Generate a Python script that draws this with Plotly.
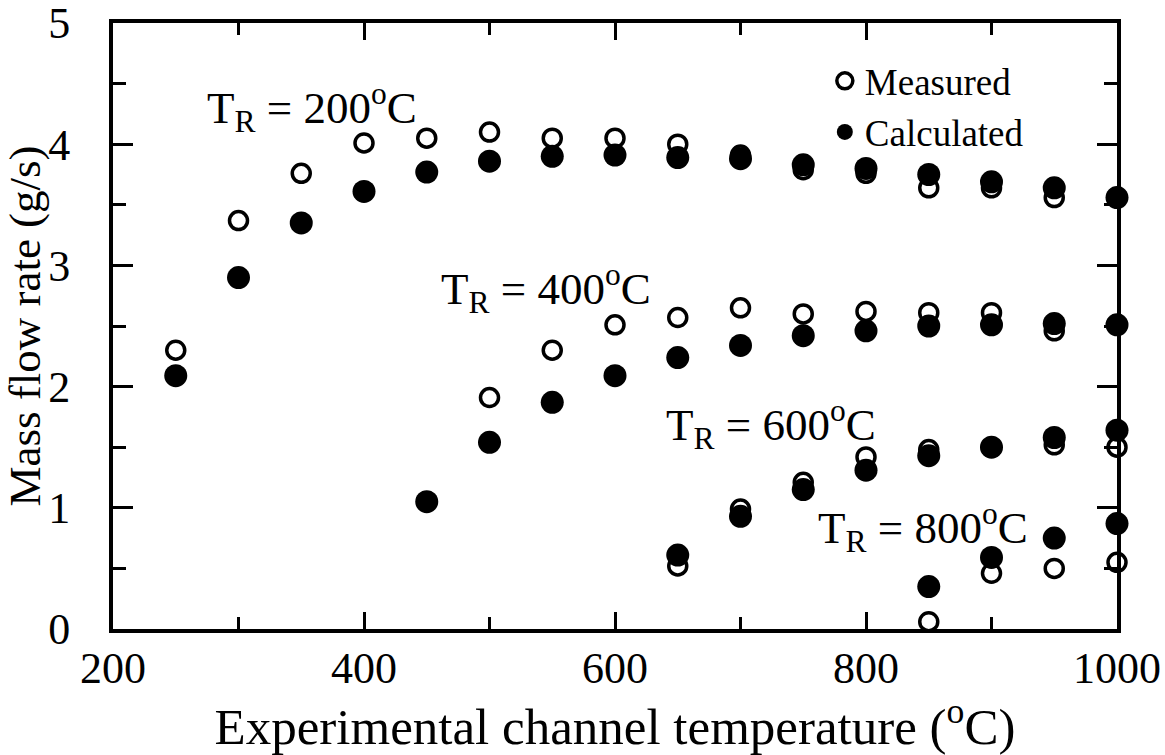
import plotly.graph_objects as go

# ---- data ----
temps_200 = [250, 300, 350, 400, 450, 500, 550, 600, 650, 700, 750, 800, 850, 900, 950, 1000]
meas_200 = [2.30, 3.37, 3.76, 4.01, 4.05, 4.10, 4.05, 4.05, 4.00, 3.91, 3.79, 3.76, 3.64, 3.64, 3.56, 3.56]
calc_200 = [2.09, 2.90, 3.35, 3.61, 3.77, 3.86, 3.90, 3.91, 3.89, 3.88, 3.83, 3.80, 3.75, 3.69, 3.64, 3.56]

temps_400 = [450, 500, 550, 600, 650, 700, 750, 800, 850, 900, 950, 1000]
meas_400 = [1.05, 1.91, 2.30, 2.51, 2.57, 2.65, 2.60, 2.62, 2.61, 2.61, 2.46, 2.51]
calc_400 = [1.05, 1.54, 1.87, 2.09, 2.24, 2.34, 2.42, 2.46, 2.50, 2.51, 2.52, 2.51]

temps_600 = [650, 700, 750, 800, 850, 900, 950, 1000]
meas_600 = [0.52, 0.99, 1.21, 1.42, 1.48, 1.50, 1.52, 1.50]
calc_600 = [0.61, 0.93, 1.15, 1.31, 1.43, 1.50, 1.58, 1.64]

temps_800 = [850, 900, 950, 1000]
meas_800 = [0.06, 0.46, 0.50, 0.55]
calc_800 = [0.35, 0.59, 0.75, 0.87]

series = [
    (temps_200, meas_200, calc_200),
    (temps_400, meas_400, calc_400),
    (temps_600, meas_600, calc_600),
    (temps_800, meas_800, calc_800),
]

labels_TR = ["200", "400", "600", "800"]
label_x = [273, 460, 639, 760]
label_y = [4.30, 2.81, 1.69, 0.84]

x_ticks = [200, 400, 600, 800, 1000]
x_minor = [300, 500, 700, 900]
y_ticks = [0, 1, 2, 3, 4, 5]

FONT = "Liberation Serif, Times New Roman, serif"

fig = go.Figure()

for i, (t, m, c) in enumerate(series):
    fig.add_trace(go.Scatter(
        x=t, y=m, mode="markers", name="Measured", legendgroup="m",
        showlegend=(i == 0), cliponaxis=False,
        marker=dict(symbol="circle-open", size=18, color="black",
                    line=dict(width=3.5, color="black")),
    ))
for i, (t, m, c) in enumerate(series):
    fig.add_trace(go.Scatter(
        x=t, y=c, mode="markers", name="Calculated", legendgroup="c",
        showlegend=(i == 0), cliponaxis=False,
        marker=dict(symbol="circle", size=23, color="black",
                    line=dict(width=0)),
    ))

for lab, lx, ly in zip(labels_TR, label_x, label_y):
    fig.add_annotation(
        x=lx, y=ly, xref="x", yref="y", xanchor="left", yanchor="middle",
        text="T<sub>R</sub> = " + lab + "<sup>o</sup>C", showarrow=False,
        font=dict(family=FONT, size=45, color="black"),
    )

fig.update_layout(
    width=1165, height=755,
    margin=dict(l=113, r=48, t=23, b=126),
    plot_bgcolor="white", paper_bgcolor="white",
    font=dict(family=FONT, size=44, color="black"),
    showlegend=True,
    legend=dict(
        x=0.709, y=0.955, xanchor="left", yanchor="top",
        bgcolor="rgba(0,0,0,0)", font=dict(family=FONT, size=37, color="black"),
        tracegroupgap=0, itemwidth=30,
    ),
)

fig.update_xaxes(
    range=[200, 1000], tickmode="array", tickvals=x_ticks,
    ticks="inside", ticklen=17, tickwidth=3, tickcolor="black",
    showline=True, linewidth=4, linecolor="black", mirror="ticks",
    showgrid=False, zeroline=False, automargin=False,
    ticklabelstandoff=-3, ticklabeloverflow="allow",
    minor=dict(tickmode="array", tickvals=x_minor, ticks="inside",
               ticklen=12, tickwidth=3, tickcolor="black", showgrid=False),
    tickfont=dict(family=FONT, size=44, color="black"),
    title=dict(text="Experimental channel temperature (<sup>o</sup>C)",
               font=dict(family=FONT, size=51, color="black"), standoff=6),
)
fig.update_yaxes(
    range=[0, 5], tickmode="array", tickvals=y_ticks,
    ticks="inside", ticklen=20, tickwidth=3, tickcolor="black",
    showline=True, linewidth=4, linecolor="black", mirror="ticks",
    showgrid=False, zeroline=False, automargin=False,
    ticklabelstandoff=30, ticklabeloverflow="allow",
    minor=dict(dtick=0.5, ticks="inside", ticklen=13, tickwidth=3,
               tickcolor="black", showgrid=False),
    tickfont=dict(family=FONT, size=44, color="black"),
    title=dict(text="Mass flow rate (g/s)",
               font=dict(family=FONT, size=45, color="black"), standoff=4),
)

fig.write_html(
    "out.html",
    config={"displayModeBar": False},
    post_script="document.body.style.margin='0';document.body.style.padding='0';"
)
